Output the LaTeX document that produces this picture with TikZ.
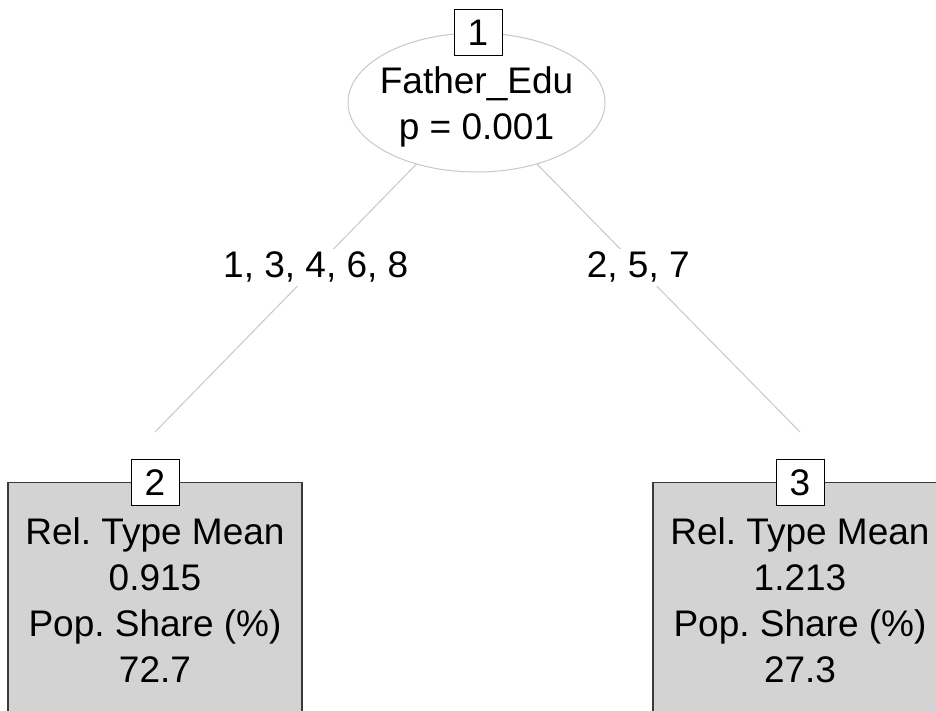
\documentclass[tikz,border=0pt]{standalone}
\usepackage{fontspec}
\setmainfont{Liberation Sans}
\frenchspacing
\usetikzlibrary{shapes.geometric,backgrounds}
\definecolor{edgegray}{HTML}{C8C8C8}
\definecolor{leaffill}{HTML}{D3D3D3}
\definecolor{leafline}{HTML}{3A3A3A}
\tikzset{
  bigtext/.style={font=\fontsize{37}{46}\selectfont},
  splitnode/.style={ellipse, draw=edgegray, line width=1pt, fill=white,
    minimum width=257pt, minimum height=139pt, inner sep=0pt},
  splittext/.style={inner sep=0pt, align=center, bigtext},
  idbox/.style={rectangle, draw=black, line width=1pt, fill=white,
    minimum width=48pt, minimum height=46pt, inner sep=0pt, bigtext},
  leafbox/.style={rectangle, draw=leafline, line width=1.3pt, fill=leaffill,
    minimum width=294pt, minimum height=260pt, anchor=north, inner sep=0pt},
  leaftext/.style={anchor=north, inner sep=0pt, align=center, bigtext},
  branch/.style={draw=edgegray, line width=1pt},
  branchlabel/.style={fill=white, inner xsep=4pt, inner ysep=3pt, bigtext}
}
\begin{document}
\begin{tikzpicture}[x=1pt,y=1pt]
\useasboundingbox (0,-710) rectangle (936,0);
\begin{scope}
\clip (0,-710) rectangle (936,0);

% inner split node
\node[splitnode] (root) at (476.5,-102.5) {};
\node[splittext] (roottext) at (476.5,-107) {Father\_Edu\\p = 0.001};
\node[idbox] (id1) at (478,-32.5) {1};

% terminal nodes
\node[leafbox] (leaf2) at (155,-482) {};
\node[leaftext] (txt2) at (155,-517) {Rel. Type Mean\\0.915\\Pop. Share (\%)\\72.7};
\node[idbox] (id2) at (155,-482.5) {2};

\node[leafbox] (leaf3) at (800,-482) {};
\node[leaftext] (txt3) at (800,-517) {Rel. Type Mean\\1.213\\Pop. Share (\%)\\27.3};
\node[idbox] (id3) at (800,-482.5) {3};

\coordinate (top2) at (155,-432);
\coordinate (top3) at (800,-432);

% branches with their split labels
\begin{scope}[on background layer]
  \draw[branch] (root.center) -- node[branchlabel] (lab2) {1, 3, 4, 6, 8} (top2);
  \draw[branch] (root.center) -- node[branchlabel] (lab3) {2, 5, 7} (top3);
\end{scope}
\end{scope}
\end{tikzpicture}
\end{document}
